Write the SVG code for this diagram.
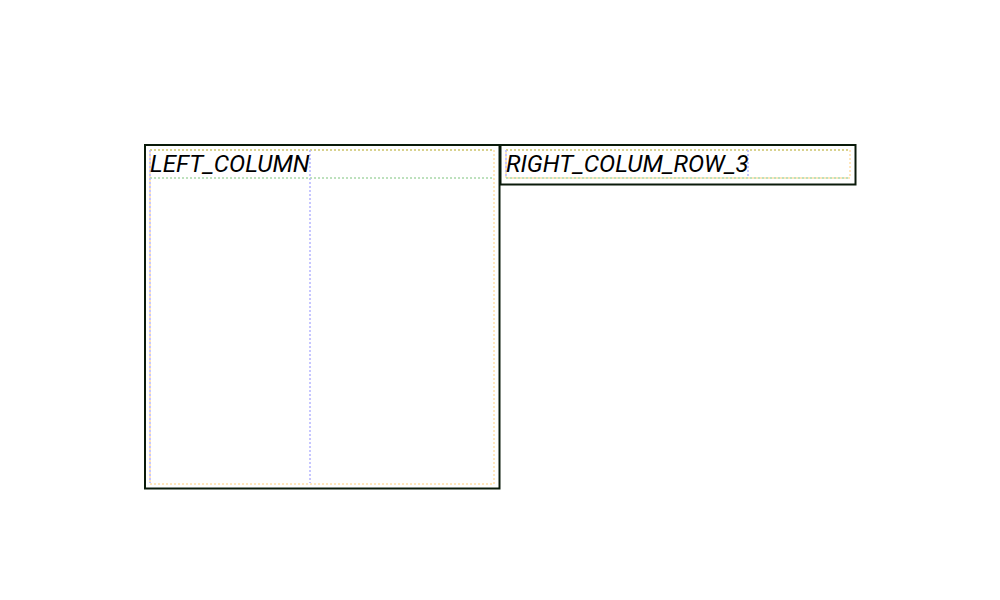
<svg xmlns="http://www.w3.org/2000/svg" width="1000" height="600" viewBox="0 0 1000 600">
<style>
.frame{fill:#fff;stroke:#0a1a0a;stroke-width:2}
.d{fill:none;stroke-width:1.5;stroke-dasharray:2 2}
.kh{stroke:#cccc80}
.gr{stroke:#a8d8a8}
.pu{stroke:#b4b4ff}
.or{stroke:#ffe0a8}
.t{font-family:Roboto,"Liberation Sans",sans-serif;font-style:italic;font-size:24.2px;fill:#000}
</style>
<rect width="1000" height="600" fill="#fff"/>
<g id="left_column">
<rect class="frame" x="145" y="145" width="354.5" height="343.5"/>
<rect class="d or" x="150" y="150" width="344" height="334"/>
<line class="d kh" x1="150" y1="150" x2="494" y2="150"/>
<line class="d gr" x1="150" y1="178" x2="494" y2="178"/>
<line class="d pu" x1="150" y1="150" x2="150" y2="483"/>
<line class="d pu" x1="310" y1="150" x2="310" y2="483"/>
<text class="t" x="150" y="172">LEFT_COLUMN</text>
</g>
<g id="right_column_row_3">
<rect class="frame" x="500.5" y="145" width="355" height="39.5"/>
<rect class="d or" x="506" y="150" width="344" height="28"/>
<line class="d kh" x1="506" y1="150" x2="850" y2="150"/>
<line class="d gr" x1="506" y1="178" x2="850" y2="178"/>
<line class="d pu" x1="506" y1="150" x2="506" y2="177"/>
<line class="d pu" x1="748" y1="150" x2="748" y2="177"/>
<text class="t" x="506" y="172">RIGHT_COLUM_ROW_3</text>
</g>
<g id="connectors"/>
</svg>
